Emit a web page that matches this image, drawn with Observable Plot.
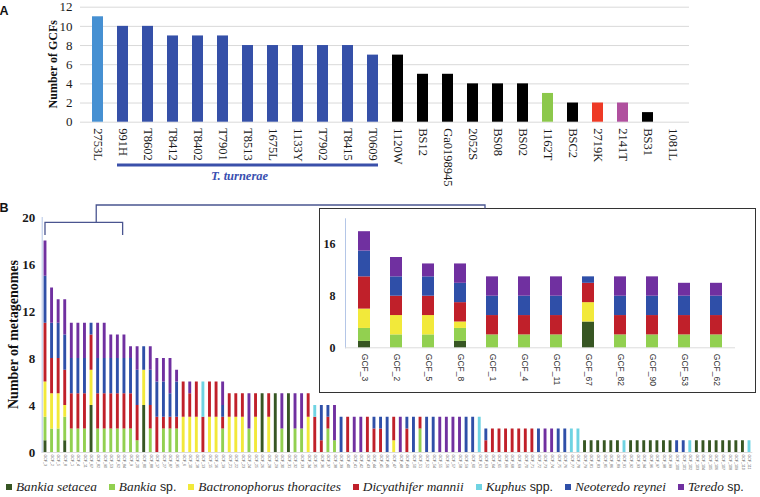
<!DOCTYPE html>
<html><head><meta charset="utf-8">
<script src="https://cdn.jsdelivr.net/npm/d3@7"></script>
<script src="https://cdn.jsdelivr.net/npm/@observablehq/plot@0.6"></script>
<style>
body{margin:0;background:#fff;}
#root{position:relative;width:760px;height:497px;overflow:hidden;background:#fff;font-family:"Liberation Serif",serif;}
</style></head><body><div id="root"></div>
<script>
// ---------- Panel A data ----------
const strains = ["2753L","991H","T8602","T8412","T8402","T7901","T8513","1675L","1133Y","T7902","T8415","T0609","1120W","BS12","Ga0198945","2052S","BS08","BS02","1162T","BSC2","2719K","2141T","BS31","1081L"];
const gcfCounts = [11,10,10,9,9,9,8,8,8,8,8,7,7,5,5,4,4,4,3,2,2,2,1,0];
const strainGroups = ["light","turnerae","turnerae","turnerae","turnerae","turnerae","turnerae","turnerae","turnerae","turnerae","turnerae","turnerae","black","black","black","black","black","black","green","black","red","magenta","black","black"];
const groupNames = ["light","turnerae","black","green","red","magenta"];
const groupColors = ["#4690d2","#3550a8","#000000","#8cc84b","#ee3a26","#b0509e"];
const yTicksA = [0,2,4,6,8,10,12];

// ---------- Panel B data ----------
const speciesNames = ["Bankia setacea","Bankia sp.","Bactronophorus thoracites","Dicyathifer mannii","Kuphus spp.","Neoteredo reynei","Teredo sp."];
const speciesColors = ["#375623","#92d050","#f2e93a","#c0202a","#6fd3e2","#2f4fa8","#7030a0"];
const gcfNames = ["GCF_3","GCF_2","GCF_5","GCF_8","GCF_1","GCF_4","GCF_11","GCF_67","GCF_82","GCF_90","GCF_53","GCF_62",
"GCF_84","GCF_9","GCF_20","GCF_80","GCF_88","GCF_17","GCF_27","GCF_87","GCF_95","GCF_6","GCF_10","GCF_18",
"GCF_13","GCF_15","GCF_16","GCF_19","GCF_21","GCF_22","GCF_23","GCF_24","GCF_25","GCF_26","GCF_28","GCF_29",
"GCF_30","GCF_31","GCF_32","GCF_33","GCF_34","GCF_35","GCF_36","GCF_37","GCF_38","GCF_39","GCF_40","GCF_41",
"GCF_42","GCF_43","GCF_44","GCF_45","GCF_46","GCF_47","GCF_48","GCF_49","GCF_50","GCF_51","GCF_52","GCF_54",
"GCF_55","GCF_56","GCF_57","GCF_58","GCF_59","GCF_60","GCF_61","GCF_63","GCF_64","GCF_65","GCF_66","GCF_68",
"GCF_69","GCF_70","GCF_71","GCF_72","GCF_73","GCF_74","GCF_75","GCF_76","GCF_77","GCF_78","GCF_79","GCF_81",
"GCF_83","GCF_85","GCF_86","GCF_89","GCF_91","GCF_92","GCF_93","GCF_94","GCF_96","GCF_97","GCF_98","GCF_99",
"GCF_100","GCF_101","GCF_102","GCF_103","GCF_104","GCF_105","GCF_106","GCF_107","GCF_108","GCF_109","GCF_110","GCF_111"];
const bankiaSetacea = [1,0,0,1,0,0,0,4,0,0,0,0, 0,0,0,4,0,0,0,0,0,0,0,0, 0,0,0,0,0,0,0,0,0,5,0,5, 0,5,0,0,0,0,0,0,0,0,0,0, 0,0,0,0,0,0,0,0,0,0,0,0, 0,0,0,0,0,0,0,0,0,0,0,0, 0,0,0,0,0,0,0,0,0,0,1,1, 1,1,1,1,0,1,1,1,1,1,1,1, 0,0,0,1,1,1,1,1,1,1,1,0];
const bankiaSp     = [2,2,2,2,2,2,2,0,2,2,2,2, 2,2,1,0,2,0,2,2,2,0,0,0, 0,0,0,2,0,0,0,2,0,0,0,0, 2,0,2,2,0,0,0,2,1,0,0,0, 0,0,0,0,0,0,0,0,0,2,0,0, 0,0,0,0,0,0,0,0,0,0,0,0, 0,0,0,0,0,0,0,0,0,0,0,0, 0,0,0,0,0,0,0,0,0,0,0,0, 0,0,0,0,0,0,0,0,0,0,0,0];
const bactronophorus=[3,3,3,1,0,0,0,3,0,0,0,0, 0,0,0,3,0,0,0,0,0,3,3,3, 0,3,3,0,3,3,3,0,3,0,3,0, 0,0,0,0,3,0,0,0,0,0,0,0, 0,0,0,0,0,1,0,0,0,0,0,0, 0,0,0,0,0,0,0,0,0,0,0,0, 0,0,0,0,0,0,0,0,0,0,0,0, 0,0,0,0,0,0,0,0,0,0,0,0, 0,0,0,0,0,0,0,0,0,0,0,0];
const dicyathifer  = [5,3,3,3,3,3,3,3,3,3,3,3, 3,3,3,0,2,3,1,1,1,3,2,3, 3,3,3,1,2,2,2,0,2,0,2,0, 0,0,0,0,2,3,1,1,0,0,3,0, 0,3,2,2,0,2,0,2,0,1,0,0, 0,0,0,0,0,0,0,1,2,2,2,2, 2,2,2,0,0,0,0,0,0,0,0,0, 0,0,0,0,0,0,0,0,0,0,0,0, 0,0,0,0,0,0,0,0,0,0,0,0];
const kuphus       = [0,0,0,0,0,0,0,0,0,0,0,0, 0,0,0,0,0,0,0,0,0,0,0,0, 3,0,0,0,0,0,0,0,0,0,0,0, 0,0,0,0,0,1,0,0,0,0,0,0, 0,0,0,0,0,0,0,0,0,0,0,0, 0,0,0,0,0,0,3,0,0,0,0,0, 0,0,0,0,0,0,0,0,2,2,0,0, 0,0,0,0,1,0,0,0,0,0,0,0, 0,0,1,0,0,0,0,0,0,0,0,1];
const neoteredo    = [4,3,3,3,3,3,3,1,3,3,3,3, 3,3,3,2,3,3,3,2,3,0,0,0, 0,0,0,1,0,0,0,0,0,0,0,0, 0,0,0,0,0,0,3,1,0,3,0,0, 0,0,1,1,3,0,0,1,3,0,3,3, 0,0,0,0,3,3,0,1,0,0,0,0, 0,0,0,2,0,0,2,2,0,0,0,0, 0,0,0,0,0,0,0,0,0,0,0,0, 1,1,0,0,0,0,0,0,0,0,0,0];
const teredo       = [3,3,2,3,3,3,3,0,3,3,2,2, 2,1,2,0,2,2,2,3,1,0,1,0, 0,0,0,2,0,0,0,3,0,0,0,0, 3,0,3,3,0,0,0,0,3,0,0,3, 3,0,0,0,0,0,3,0,0,0,0,0, 3,3,3,3,0,0,0,0,0,0,0,0, 0,0,0,0,2,2,0,0,0,0,0,0, 0,0,0,0,0,0,0,0,0,0,0,0, 0,0,0,0,0,0,0,0,0,0,0,0];
const yTicksB = [0,4,8,12,16,20];
const yTicksInset = [0,8,16];
const insetCount = 12;

// ---------- build tables ----------
const seriesB = [bankiaSetacea,bankiaSp,bactronophorus,dicyathifer,kuphus,neoteredo,teredo];
const tableA = strains.map((s,i)=>({strain:s, n:gcfCounts[i], group:strainGroups[i]}));
const tableB = [];
gcfNames.forEach((g,i)=>speciesNames.forEach((s,k)=>tableB.push({gcf:g, species:s, n:seriesB[k][i]})));
const insetNames = gcfNames.slice(0,insetCount);
const tableInset = tableB.filter(d=>insetNames.includes(d.gcf));

const root = document.getElementById("root");
function place(el,left,top){el.style.position="absolute";el.style.left=left+"px";el.style.top=top+"px";root.appendChild(el);return el;}
const serif = "Liberation Serif";

// ---------- Panel A ----------
const A = Plot.plot({
  width:760, height:192, marginLeft:80, marginRight:71, marginTop:6.7, marginBottom:70.3,
  style:{background:"transparent", fontFamily:serif, color:"#1a1a1a", overflow:"visible"},
  x:{domain:strains, paddingInner:0.58, paddingOuter:0.29},
  y:{domain:[0,12]},
  color:{domain:groupNames, range:groupColors},
  marks:[
    Plot.gridY(yTicksA,{stroke:"#d9d9d9", strokeOpacity:1}),
    Plot.barY(tableA,{x:"strain", y:"n", fill:"group"}),
    Plot.axisY(yTicksA,{tickSize:0, tickPadding:8, fontSize:13, label:null}),
    Plot.axisX({tickSize:0, tickRotate:90, tickPadding:6, fontSize:12.5, label:null})
  ]
});
place(A,0,0);
{
  const s = d3.select(A), xA = A.scale("x"), yA = A.scale("y");
  s.append("text").attr("x",4).attr("y",15).attr("font-family","Liberation Sans").attr("font-weight","bold").attr("font-size",12.5).attr("fill","#111").text("A");
  s.append("text").attr("transform",`translate(53,${(yA.apply(0)+yA.apply(12))/2}) rotate(-90)`).attr("text-anchor","middle").attr("dy","0.35em")
    .attr("font-family",serif).attr("font-weight","bold").attr("font-size",12).attr("fill","#111").text("Number of GCFs");
  const t0 = xA.apply(strains[1]), t1 = xA.apply(strains[11]) + xA.bandwidth;
  s.append("line").attr("x1",t0).attr("x2",t1).attr("y1",165).attr("y2",165).attr("stroke","#3a50aa").attr("stroke-width",3);
  s.append("text").attr("x",(t0+t1)/2-8).attr("y",180).attr("text-anchor","middle").attr("font-family",serif).attr("font-style","italic").attr("font-weight","bold").attr("font-size",12.5).attr("fill","#3a50b0").text("T. turnerae");
}

// ---------- Panel B ----------
const B = Plot.plot({
  width:760, height:280, marginLeft:41.7, marginRight:7.7, marginTop:22, marginBottom:23,
  style:{background:"transparent", fontFamily:serif, color:"#1a1a1a", overflow:"visible"},
  x:{domain:gcfNames, paddingInner:0.56, paddingOuter:0.28},
  y:{domain:[0,20]},
  color:{domain:speciesNames, range:speciesColors},
  marks:[
    Plot.frame({anchor:"left", stroke:"#b4c6e7"}),
    Plot.ruleY([0],{stroke:"#dcdcdc"}),
    Plot.barY(tableB,{x:"gcf", y:"n", fill:"species"}),
    Plot.axisY(yTicksB,{tickSize:0, tickPadding:7, fontSize:13, label:null}),
    Plot.axisX({tickSize:0, tickRotate:90, tickPadding:2, fontSize:3.6, fontFamily:"Liberation Sans", fill:"#555", label:null})
  ]
});
place(B,0,195);
d3.select(B).selectAll('[aria-label="y-axis tick label"] text').attr("font-weight","bold");
{
  const s = d3.select(B), yB = B.scale("y");
  s.append("text").attr("x",4).attr("y",17).attr("font-family","Liberation Sans").attr("font-weight","bold").attr("font-size",12.5).attr("fill","#111").text("B");
  s.append("text").attr("transform",`translate(13,${(yB.apply(0)+yB.apply(20))/2}) rotate(-90)`).attr("text-anchor","middle").attr("dy","0.35em")
    .attr("font-family",serif).attr("font-weight","bold").attr("font-size",14).attr("fill","#111").text("Number of metagenomes");
}

// ---------- Inset ----------
const box = document.createElement("div");
box.style.width="437px"; box.style.height="185px"; box.style.boxSizing="border-box"; box.style.border="1px solid #333"; box.style.background="#fff";
place(box,319,208);
const I = Plot.plot({
  width:435, height:183, marginLeft:25, marginRight:20, marginTop:9.3, marginBottom:44.7,
  style:{background:"transparent", fontFamily:serif, color:"#1a1a1a"},
  x:{domain:insetNames, paddingInner:0.61, paddingOuter:0.305},
  y:{domain:[0,20]},
  color:{domain:speciesNames, range:speciesColors},
  marks:[
    Plot.frame({anchor:"left", stroke:"#b4c6e7"}),
    Plot.ruleY([0],{stroke:"#dcdcdc"}),
    Plot.barY(tableInset,{x:"gcf", y:"n", fill:"species"}),
    Plot.axisY(yTicksInset,{tickSize:0, tickPadding:10, fontSize:12, label:null}),
    Plot.axisX({tickSize:0, tickRotate:90, tickPadding:6, fontSize:8.5, fontFamily:"Liberation Sans", fill:"#333", label:null})
  ]
});
I.style.display="block";
box.appendChild(I);
d3.select(I).selectAll('[aria-label="y-axis tick label"] text').attr("font-weight","bold");

// ---------- Brackets overlay ----------
{
  const xB = B.scale("x");
  const c = g => xB.apply(g) + xB.bandwidth/2;
  const xa = c(gcfNames[0]), xb = c(gcfNames[insetCount-1]) + xB.step*0.8;
  const stem = xa + (xb-xa)*0.66;
  const ov = d3.create("svg").attr("width",760).attr("height",497).style("position","absolute").style("left","0px").style("top","0px").style("pointer-events","none");
  const col = "#4a5590";
  const path = `M${xa},235 V222.3 H${xb} V235 M${stem},222.3 V205 H485 V208.5`;
  ov.append("path").attr("d",path).attr("fill","none").attr("stroke",col).attr("stroke-width",1.3);
  root.appendChild(ov.node());
}

// ---------- Legend ----------
const leg = document.createElement("div");
leg.style.display="flex"; leg.style.alignItems="center"; leg.style.gap="12px"; leg.style.whiteSpace="nowrap";
speciesNames.forEach((name,k)=>{
  const m = name.match(/^(.*?)( spp?\.)$/);
  const it = document.createElement("span");
  it.style.display="flex"; it.style.alignItems="center";
  const sw = document.createElement("span");
  sw.style.display="inline-block"; sw.style.width="6px"; sw.style.height="6px"; sw.style.background=speciesColors[k]; sw.style.marginRight="4px";
  it.appendChild(sw);
  const i1 = document.createElement("span");
  i1.style.fontFamily=serif; i1.style.fontStyle="italic"; i1.style.fontSize="13.3px"; i1.style.color="#222";
  i1.textContent = m ? m[1] : name;
  it.appendChild(i1);
  if(m){ const p = document.createElement("span"); p.style.fontFamily="Liberation Sans"; p.style.fontSize="12.3px"; p.style.color="#222"; p.style.whiteSpace="pre"; p.textContent=m[2]; it.appendChild(p); }
  leg.appendChild(it);
});
place(leg,6,479);
</script></body></html>
